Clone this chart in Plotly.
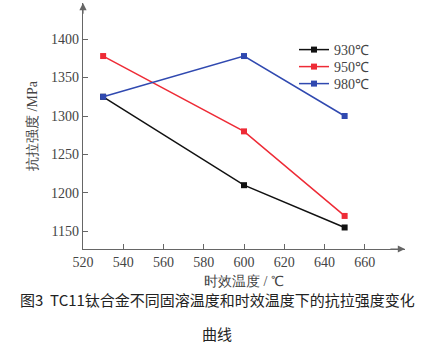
import plotly.graph_objects as go

# Aging temperature (°C) and tensile strength (MPa) for each solution temperature
aging_temp = [530, 600, 650]
series_names = ["930℃", "950℃", "980℃"]
strength_930 = [1325, 1210, 1155]
strength_950 = [1378, 1280, 1170]
strength_980 = [1325, 1378, 1300]
x_ticks = [520, 540, 560, 580, 600, 620, 640, 660]
y_ticks = [1150, 1200, 1250, 1300, 1350, 1400]

colors = ["#111111", "#ee2b36", "#3049b0"]
serif = "serif"
serif_cjk = "serif"
sans = "Noto Sans CJK SC"

# Plot area in pixels
L, R, T, B = 83, 22, 3, 98
W, H = 427, 347
plot_w = W - L - R
plot_h = H - T - B

fig = go.Figure()
legend_ids = ["legend", "legend2", "legend3"]
for name, ys, c, lg in zip(series_names, [strength_930, strength_950, strength_980], colors, legend_ids):
    fig.add_trace(go.Scatter(
        x=aging_temp, y=ys, name=name, mode="lines+markers",
        line=dict(color=c, width=1.5),
        marker=dict(symbol="square", size=6, color=c),
        legend=lg,
    ))

# One legend box per series, stacked with tight row spacing
legend_rows = [50, 67, 84]
legend_style = dict(x=(294 - L) / plot_w, xanchor="left", yanchor="middle",
                    font=dict(family=serif_cjk, size=14, color="#444444"),
                    bgcolor="rgba(0,0,0,0)", itemwidth=30)
legends = {}
for lg, row in zip(legend_ids, legend_rows):
    legends[lg] = dict(legend_style, y=(H - B - row) / plot_h)

x_range = [520, 680]
y_range = [1127, 1447]
axis_color = "#666666"

fig.update_layout(
    width=W, height=H,
    margin=dict(l=L, r=R, t=T, b=B),
    paper_bgcolor="white", plot_bgcolor="white",
    font=dict(family=serif),
    showlegend=True,
    xaxis=dict(range=x_range, tickvals=x_ticks, showgrid=False, zeroline=False,
               showline=True, linecolor=axis_color, linewidth=1.2,
               ticks="inside", ticklen=5, tickcolor=axis_color,
               tickfont=dict(family=serif, size=14, color="#444444"),
               title=dict(text="时效温度 / ℃", standoff=7,
                          font=dict(family=serif_cjk, size=14, color="#444444"))),
    yaxis=dict(range=y_range, tickvals=y_ticks, showgrid=False, zeroline=False,
               showline=True, linecolor=axis_color, linewidth=1.2,
               ticks="inside", ticklen=5, tickcolor=axis_color,
               tickfont=dict(family=serif, size=14, color="#444444"),
               title=dict(text="抗拉强度 /MPa", standoff=10,
                          font=dict(family=serif_cjk, size=14, color="#444444"))),
    **legends,
)

# Arrowheads at the ends of both axes
fig.add_annotation(x=x_range[1], y=y_range[0], ax=x_range[1] - 8, ay=y_range[0],
                   xref="x", yref="y", axref="x", ayref="y", text="",
                   showarrow=True, arrowhead=2, arrowsize=1.2, arrowwidth=1.2,
                   arrowcolor=axis_color)
fig.add_annotation(x=x_range[0], y=y_range[1], ax=x_range[0], ay=y_range[1] - 16,
                   xref="x", yref="y", axref="x", ayref="y", text="",
                   showarrow=True, arrowhead=2, arrowsize=1.2, arrowwidth=1.2,
                   arrowcolor=axis_color)

# Figure caption (pixel centres converted to paper coordinates)
caption_lines = [("图3  TC11钛合金不同固溶温度和时效温度下的抗拉强度变化", 217, 299),
                 ("曲线", 217, 333)]
for text, px, py in caption_lines:
    fig.add_annotation(x=(px - L) / plot_w, y=(H - B - py) / plot_h,
                       xref="paper", yref="paper", text=text,
                       xanchor="center", yanchor="middle", showarrow=False,
                       font=dict(family=sans, size=15, color="#222222"))

fig.write_html("out.html")
